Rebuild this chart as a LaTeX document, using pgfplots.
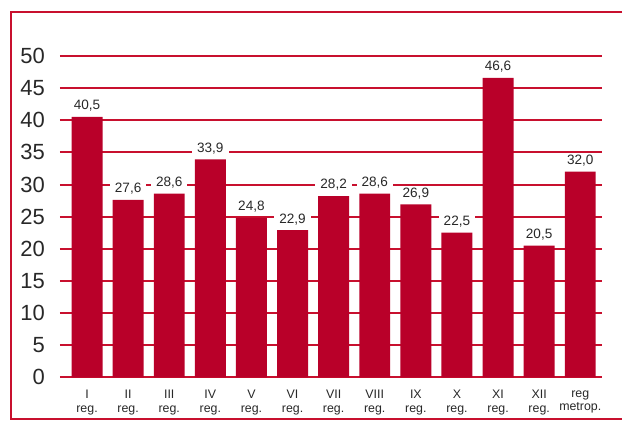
\documentclass[border=0pt]{standalone}
\usepackage{pgfplots}
\pgfplotsset{compat=1.18}
\usepackage{fontspec}
\setmainfont{Liberation Sans}
\definecolor{barred}{RGB}{185,0,41}
\definecolor{gridred}{RGB}{200,16,46}
\definecolor{txt}{RGB}{40,40,40}

\begin{document}
\begin{tikzpicture}
  % page size and the red frame (open on the right)
  \path (0,0) rectangle (311.5pt,211pt);
  \draw[gridred, line width=1pt] (311.5pt,205pt) -- (5.5pt,205pt) -- (5.5pt,1pt) -- (311.5pt,1pt);
  \begin{axis}[
    at={(30pt,22pt)}, anchor=south west,
    scale only axis,
    width=271.5pt, height=161pt,
    ybar,
    bar width=15.5pt,
    xmin=-0.66, xmax=12.53,
    ymin=0, ymax=50,
    axis line style={draw=none},
    major tick length=0pt,
    ytick={0,5,...,50},
    ymajorgrids,
    grid style={gridred, line width=1pt},
    xtick={0,...,12},
    xticklabels={I\\reg., II\\reg., III\\reg., IV\\reg., V\\reg., VI\\reg.,
      VII\\reg., VIII\\reg., IX\\reg., X\\reg., XI\\reg., XII\\reg., reg\\metrop.},
    xticklabel style={align=center, font=\fontsize{6.2}{6.6}\selectfont, text=txt, yshift=-3pt},
    yticklabel style={font=\fontsize{11}{11}\selectfont, text=txt, xshift=-4pt},
    /pgf/number format/assume math mode=true,
    nodes near coords={\pgfmathprintnumber[use comma,fixed,fixed zerofill,precision=1,assume math mode=true]{\pgfplotspointmeta}},
    nodes near coords style={font=\fontsize{6.8}{7}\selectfont, text=txt, fill=white,
      inner xsep=2.5pt, inner ysep=1pt, yshift=1.5pt},
  ]
    \addplot[fill=barred, draw=none] coordinates {
      (0,40.5) (1,27.6) (2,28.6) (3,33.9) (4,24.8) (5,22.9) (6,28.2)
      (7,28.6) (8,26.9) (9,22.5) (10,46.6) (11,20.5) (12,32.0)
    };
  \end{axis}
\end{tikzpicture}
\end{document}
